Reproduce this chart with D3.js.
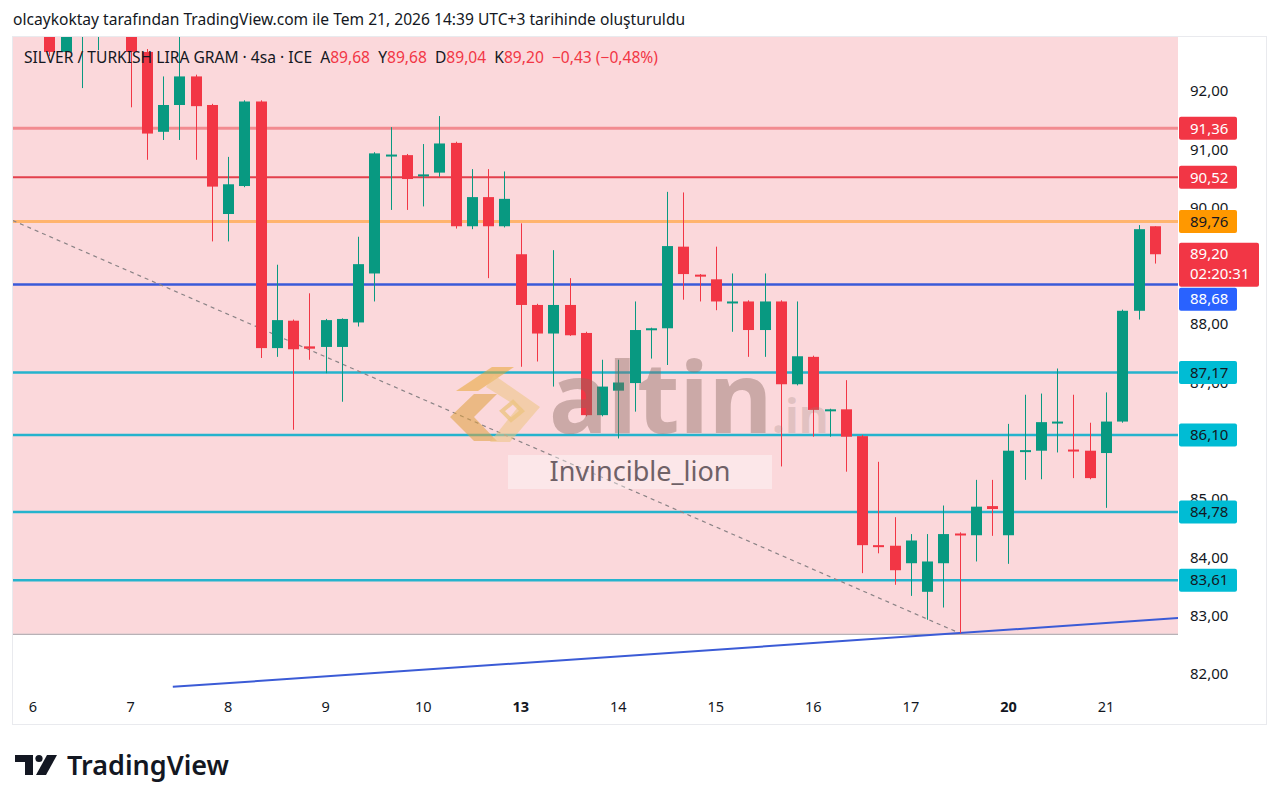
<!DOCTYPE html>
<html>
<head>
<meta charset="utf-8">
<script src="https://cdn.jsdelivr.net/npm/d3@7"></script>
<style>
  body { margin: 0; background: #ffffff; }
  svg text { font-family: "Noto Sans", "DejaVu Sans", sans-serif; }
</style>
</head>
<body>
<svg id="chart" width="1280" height="806"></svg>
<script>
// ---- data ----
const dayLabels = ["6", "7", "8", "9", "10", "13", "14", "15", "16", "17", "20", "21"];
const dayStartIdx = [0, 6, 12, 18, 24, 30, 36, 42, 48, 54, 60, 66];
const weekStartDays = ["13", "20"];

// 4h candles, index 0 = first bar of day 6
const opens  = [93.40, 93.30, 92.67, 93.15, 93.40, 93.50, 93.30, 92.67, 91.30, 91.76,
                92.25, 91.76, 89.89, 90.37, 91.82, 87.59, 88.06, 87.62, 87.61, 87.61,
                88.03, 88.87, 90.89, 90.90, 90.55, 90.60, 91.11, 89.68, 90.18, 89.68,
                89.20, 88.33, 87.84, 88.33, 87.85, 86.44, 86.86, 86.99, 87.92, 87.93,
                89.33, 88.85, 88.77, 88.38, 88.39, 87.90, 88.39, 86.97, 87.44, 86.53,
                86.54, 86.08, 84.21, 84.20, 83.90, 83.41, 83.90, 84.41, 84.38, 84.88,
                84.38, 85.82, 85.83, 86.31, 85.85, 85.83, 85.79, 86.33, 88.23, 89.68];
const highs  = [93.70, 93.50, 93.30, 93.60, 93.80, 93.90, 93.50, 92.72, 92.25, 93.00,
                92.28, 91.78, 90.87, 91.84, 91.84, 89.02, 88.08, 88.53, 88.09, 88.10,
                89.50, 90.95, 91.38, 90.92, 91.09, 91.57, 91.13, 90.66, 90.66, 90.62,
                89.73, 88.35, 89.27, 88.79, 87.87, 87.39, 87.39, 88.39, 87.94, 90.27,
                90.26, 88.86, 89.33, 88.87, 88.41, 88.87, 88.41, 88.39, 87.46, 86.55,
                87.04, 86.10, 85.64, 84.69, 84.40, 84.40, 84.89, 84.43, 85.33, 85.33,
                86.29, 86.79, 86.81, 87.24, 86.79, 86.31, 86.83, 88.25, 89.70, 89.68];
const lows   = [93.10, 92.60, 92.60, 92.05, 92.70, 93.05, 91.72, 90.82, 91.16, 91.16,
                90.82, 89.42, 89.42, 90.35, 87.42, 87.44, 86.19, 87.39, 87.16, 86.67,
                87.96, 88.39, 89.96, 89.96, 90.02, 90.53, 89.64, 89.63, 88.79, 89.66,
                87.27, 87.36, 86.93, 87.80, 86.42, 86.42, 86.04, 86.50, 87.41, 87.30,
                88.42, 88.39, 88.24, 87.87, 87.44, 87.44, 85.56, 86.95, 86.07, 86.07,
                85.47, 83.73, 84.07, 83.53, 83.34, 82.93, 83.14, 82.70, 83.93, 84.37,
                83.89, 85.33, 85.34, 85.80, 85.36, 85.34, 84.85, 86.31, 88.08, 89.04];
const closes = [93.30, 92.67, 93.15, 93.40, 93.50, 93.30, 92.67, 91.27, 91.76, 92.25,
                91.74, 90.36, 90.40, 91.82, 87.59, 88.07, 87.57, 87.58, 88.07, 88.09,
                89.03, 90.93, 90.91, 90.49, 90.57, 91.10, 89.68, 90.18, 89.68, 90.15,
                88.33, 87.84, 88.33, 87.81, 86.44, 86.93, 87.00, 87.90, 87.93, 89.34,
                88.86, 88.83, 88.39, 88.39, 87.90, 88.39, 86.97, 87.45, 86.53, 86.54,
                86.07, 84.21, 84.20, 83.78, 84.29, 83.93, 84.40, 84.39, 84.87, 84.83,
                85.83, 85.84, 86.32, 86.33, 85.83, 85.36, 86.33, 88.23, 89.63, 89.20];

const priceTicks = [82, 83, 84, 85, 86, 87, 88, 89, 90, 91, 92];
const levelPrices = [91.36, 90.52, 89.76, 88.68, 87.17, 86.10, 84.78, 83.61];
const countdown = "02:20:31";
const zoneLow = 82.69;                             // pink zone from here to the top
const dashedTrend = [[-1.25, 89.78], [57, 82.70]]; // [bar index, price]
const blueRay = [[8.6, 81.78], [70.46, 82.96]];

const symbolTitle = "SILVER / TURKISH LIRA GRAM · 4sa · ICE";
const headerText = "olcaykoktay tarafından TradingView.com ile Tem 21, 2026 14:39 UTC+3 tarihinde oluşturuldu";

// ---- layout ----
const paneL = 13, paneR = 1178, paneT = 37, paneB = 695;
const GREEN = "#089981", RED = "#f23645";
const levelStyle = [
  {line: "#f28b90", lw: 3,   bg: "#f23645", fg: "#ffffff"},
  {line: "#e3404c", lw: 2,   bg: "#f23645", fg: "#ffffff"},
  {line: "#ffb46e", lw: 3,   bg: "#ff9800", fg: "#131722"},
  {line: "#3a5ad8", lw: 2.5, bg: "#2962ff", fg: "#ffffff"},
  {line: "#25b3cd", lw: 2.5, bg: "#00bcd4", fg: "#131722"},
  {line: "#25b3cd", lw: 2.5, bg: "#00bcd4", fg: "#131722"},
  {line: "#25b3cd", lw: 2.5, bg: "#00bcd4", fg: "#131722"},
  {line: "#25b3cd", lw: 2.5, bg: "#00bcd4", fg: "#131722"}
];

const tr = d3.formatLocale({decimal: ",", thousands: ".", grouping: [3], currency: ["", ""], minus: "\u2212"});
const f2 = tr.format(".2f");

const svg = d3.select("#chart");
const x = d3.scaleLinear().domain([0, 66]).range([33, 1106]);
const y = d3.scaleLinear().domain([82, 92]).range([674, 91]);

svg.append("defs").append("clipPath").attr("id", "pane")
  .append("rect").attr("x", paneL).attr("y", paneT)
  .attr("width", paneR - paneL).attr("height", paneB - paneT);

// card
svg.append("rect").attr("x", 12.5).attr("y", 36.5).attr("width", 1254).attr("height", 688)
  .attr("fill", "#ffffff").attr("stroke", "#e9eaee");

// header line
svg.append("text").attr("x", 13).attr("y", 25).attr("font-size", 15.6)
  .attr("fill", "#131722").text(headerText);

const pane = svg.append("g").attr("clip-path", "url(#pane)");

// pink zone
pane.append("rect").attr("x", paneL).attr("width", paneR - paneL)
  .attr("y", paneT).attr("height", y(zoneLow) - paneT).attr("fill", "#fbd8db");
pane.append("line").attr("x1", paneL).attr("x2", paneR)
  .attr("y1", y(zoneLow) + 0.5).attr("y2", y(zoneLow) + 0.5)
  .attr("stroke", "#a39aa0").attr("stroke-width", 1);

// horizontal levels
pane.selectAll("line.level").data(levelPrices).join("line")
  .attr("class", "level")
  .attr("x1", paneL).attr("x2", paneR)
  .attr("y1", d => y(d)).attr("y2", d => y(d))
  .attr("stroke", (d, i) => levelStyle[i].line)
  .attr("stroke-width", (d, i) => levelStyle[i].lw);

// trend lines
const lineGen = d3.line().x(d => x(d[0])).y(d => y(d[1]));
pane.append("path").attr("d", lineGen(dashedTrend)).attr("fill", "none")
  .attr("stroke", "#8a8386").attr("stroke-width", 1.2).attr("stroke-dasharray", "4,4");
pane.append("path").attr("d", lineGen(blueRay)).attr("fill", "none")
  .attr("stroke", "#3b5bd6").attr("stroke-width", 2);

// candles
const candles = opens.map((o, i) => ({i, o, h: highs[i], l: lows[i], c: closes[i]}));
const bw = 11;
pane.selectAll("line.wick").data(candles).join("line")
  .attr("class", "wick")
  .attr("x1", d => Math.round(x(d.i)) + 0.5).attr("x2", d => Math.round(x(d.i)) + 0.5)
  .attr("y1", d => y(d.h)).attr("y2", d => y(d.l))
  .attr("stroke", d => d.c >= d.o ? GREEN : RED).attr("stroke-width", 1);
pane.selectAll("rect.body").data(candles).join("rect")
  .attr("class", "body")
  .attr("x", d => Math.round(x(d.i)) + 0.5 - bw / 2)
  .attr("width", bw)
  .attr("y", d => y(Math.max(d.o, d.c)))
  .attr("height", d => Math.max(2, Math.abs(y(d.o) - y(d.c))))
  .attr("fill", d => d.c >= d.o ? GREEN : RED);

// watermark (altin.in logo + user name)
const wm = svg.append("g");
const logo = wm.append("g").attr("transform", "translate(450,365)");
logo.append("polygon").attr("points", "6,26 42,2 64,2 28,26").attr("fill", "rgba(232,166,50,0.55)");
logo.append("polygon").attr("points", "0,52 24,29 47,29 24,52 47,76 24,76").attr("fill", "rgba(222,160,60,0.55)");
logo.append("polygon").attr("points", "44,10 90,42 60,77 40,77 68,42 36,22").attr("fill", "rgba(236,196,130,0.55)");
logo.append("polygon").attr("points", "52,46 63,37 72,46 61,55").attr("fill", "none")
  .attr("stroke", "rgba(236,196,130,0.8)").attr("stroke-width", 4);
wm.append("text").attr("x", 549).attr("y", 433).attr("font-size", 98).attr("font-weight", "bold")
  .attr("font-family", "'Open Sans', 'Noto Sans', sans-serif")
  .attr("fill", "rgba(135,105,95,0.42)").text("altin");
wm.append("text").attr("x", 772).attr("y", 433).attr("font-size", 46).attr("font-weight", "bold")
  .attr("font-family", "'Open Sans', 'Noto Sans', sans-serif")
  .attr("fill", "rgba(150,125,115,0.25)").text(".in");
wm.append("rect").attr("x", 508).attr("y", 455).attr("width", 264).attr("height", 34)
  .attr("fill", "rgba(255,255,255,0.38)");
wm.append("text").attr("x", 640).attr("y", 481).attr("text-anchor", "middle")
  .attr("font-size", 27).attr("fill", "#6f6167").text("Invincible_lion");

// legend line inside the pane
const last = candles[candles.length - 1], prev = candles[candles.length - 2];
const chg = last.c - prev.c;
const leg = svg.append("text").attr("x", 24).attr("y", 63).attr("font-size", 15.6)
  .attr("fill", "#131722").style("white-space", "pre");
leg.append("tspan").text(symbolTitle + "  ");
[["A", last.o], ["Y", last.h], ["D", last.l], ["K", last.c]].forEach(([k, v]) => {
  leg.append("tspan").text(k);
  leg.append("tspan").attr("fill", RED).text(f2(v) + "  ");
});
leg.append("tspan").attr("fill", RED)
  .text(f2(chg) + " (" + f2(chg / prev.c * 100) + "%)");

// price axis labels, pushed down when they would overlap
const labels = levelPrices.map((p, i) => ({p, h: 23, w: 58, lines: [f2(p)], bg: levelStyle[i].bg, fg: levelStyle[i].fg}));
labels.push({p: last.c, h: 44, w: 80, lines: [f2(last.c), countdown], bg: RED, fg: "#ffffff", top: true});
labels.forEach(d => { d.y0 = d.top ? y(d.p) - 11.5 : y(d.p) - d.h / 2; });
labels.sort((a, b) => a.y0 - b.y0);
for (let k = 1; k < labels.length; k++) {
  const end = labels[k - 1].y0 + labels[k - 1].h + 1;
  if (labels[k].y0 < end) labels[k].y0 = end;
}

// price axis ticks (the ones fully under a label are not drawn, as on the chart)
const hidden = t => labels.some(l => y(t) - 5 > l.y0 && y(t) + 5 < l.y0 + l.h);
const axisG = svg.append("g");
axisG.selectAll("text.tick").data(priceTicks.filter(t => !hidden(t))).join("text")
  .attr("class", "tick")
  .attr("x", 1190).attr("y", d => y(d)).attr("dy", "0.35em")
  .attr("font-size", 15).attr("fill", "#131722")
  .text(d => f2(d));

const lg = axisG.selectAll("g.plabel").data(labels).join("g").attr("class", "plabel")
  .attr("transform", d => `translate(1179,${d.y0})`);
lg.append("rect").attr("width", d => d.w).attr("height", d => d.h).attr("rx", 2)
  .attr("fill", d => d.bg);
lg.each(function(d) {
  d3.select(this).selectAll("text").data(d.lines).join("text")
    .attr("x", 11).attr("y", (t, j) => 11.5 + j * 20).attr("dy", "0.35em")
    .attr("font-size", 15).attr("fill", d.fg).text(t => t);
});

// time axis
svg.selectAll("text.day").data(dayLabels).join("text")
  .attr("class", "day")
  .attr("x", (d, i) => x(dayStartIdx[i])).attr("y", 707).attr("dy", "0.35em")
  .attr("text-anchor", "middle").attr("font-size", 14.5).attr("fill", "#131722")
  .attr("font-weight", d => weekStartDays.includes(d) ? "bold" : "normal")
  .text(d => d);

// TradingView logo
const tv = svg.append("g").attr("fill", "#131722");
tv.append("path").attr("d", "M15,755 H33 V775 H25 V762 H15 Z");
tv.append("circle").attr("cx", 39).attr("cy", 758.5).attr("r", 3.6);
tv.append("path").attr("d", "M47,755 H57 L46,775 H36 Z");
tv.append("text").attr("x", 67).attr("y", 775).attr("font-size", 27).attr("font-weight", 600)
  .attr("font-family", "Inter, 'Noto Sans', sans-serif").text("TradingView");
</script>
</body>
</html>
